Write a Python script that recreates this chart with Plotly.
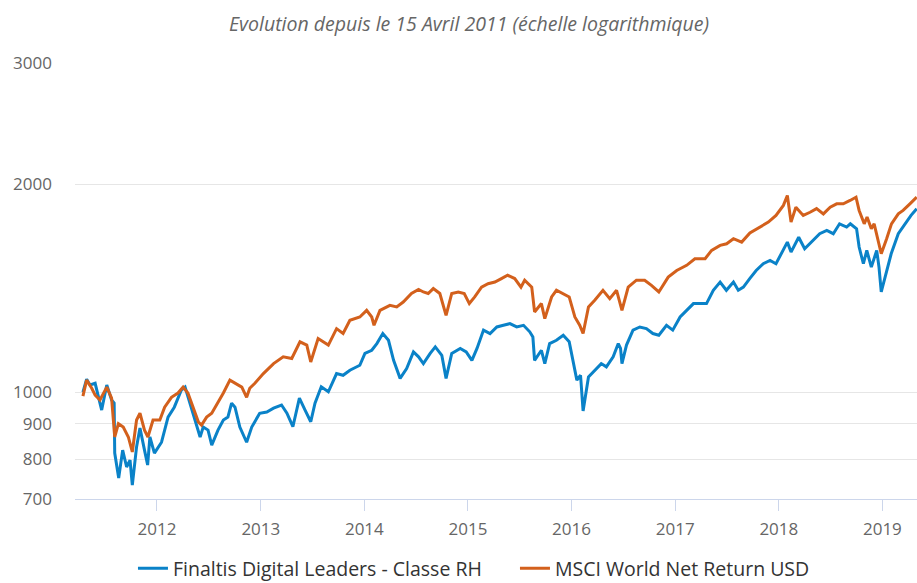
import plotly.graph_objects as go

# Finaltis Digital Leaders - Classe RH (blue)
fund_dates = [
    "2011-04-15", "2011-04-28", "2011-05-10", "2011-05-28", "2011-06-20", "2011-07-08", "2011-07-25",
    "2011-08-03", "2011-08-05", "2011-08-19", "2011-09-02", "2011-09-16", "2011-09-28", "2011-10-06",
    "2011-10-21", "2011-11-02", "2011-11-18", "2011-11-29", "2011-12-07", "2011-12-23",
    "2012-01-17", "2012-02-09", "2012-03-02", "2012-03-27", "2012-04-09", "2012-04-26", "2012-05-14",
    "2012-06-01", "2012-06-12", "2012-06-29", "2012-07-12", "2012-08-03", "2012-08-22", "2012-09-07",
    "2012-09-20", "2012-10-02", "2012-10-19", "2012-11-12", "2012-11-30", "2012-12-28",
    "2013-01-22", "2013-02-15", "2013-03-15", "2013-04-03", "2013-04-24", "2013-05-17", "2013-06-06",
    "2013-06-26", "2013-07-11", "2013-08-02", "2013-08-27", "2013-09-25", "2013-10-18", "2013-11-11",
    "2013-12-16",
    "2014-01-03", "2014-01-27", "2014-02-14", "2014-03-07", "2014-03-27", "2014-04-14", "2014-05-07",
    "2014-05-30", "2014-06-23", "2014-07-11", "2014-07-28", "2014-08-21", "2014-09-08", "2014-10-01",
    "2014-10-16", "2014-11-05", "2014-12-05", "2014-12-26",
    "2015-01-15", "2015-02-02", "2015-02-25", "2015-03-20", "2015-04-13", "2015-05-06", "2015-05-29",
    "2015-06-22", "2015-07-16", "2015-08-07", "2015-08-18", "2015-08-24", "2015-09-17", "2015-09-29",
    "2015-10-16", "2015-11-09", "2015-12-03", "2015-12-24",
    "2016-01-13", "2016-01-20", "2016-02-02", "2016-02-11", "2016-03-01", "2016-03-23", "2016-04-15",
    "2016-05-03", "2016-05-27", "2016-06-14", "2016-06-22", "2016-06-27", "2016-07-13", "2016-08-05",
    "2016-08-29", "2016-09-21", "2016-10-14", "2016-11-04", "2016-12-01", "2016-12-23",
    "2017-01-18", "2017-02-10", "2017-03-06", "2017-03-29", "2017-04-21", "2017-05-15", "2017-06-08",
    "2017-06-30", "2017-07-25", "2017-08-11", "2017-08-29", "2017-09-21", "2017-10-13", "2017-11-07",
    "2017-12-01", "2017-12-22",
    "2018-01-17", "2018-01-31", "2018-02-13", "2018-03-12", "2018-04-02", "2018-05-02", "2018-05-25",
    "2018-06-19", "2018-07-12", "2018-08-03", "2018-08-28", "2018-09-10", "2018-10-02", "2018-10-11",
    "2018-10-26", "2018-11-07", "2018-11-23", "2018-12-12", "2018-12-20", "2018-12-28",
    "2019-01-16", "2019-02-01", "2019-02-26", "2019-03-21", "2019-04-12", "2019-05-02",
]
fund_values = [
    1000, 1044, 1024, 1030, 942, 1024, 974,
    964, 816, 751, 824, 779, 797, 733,
    833, 887, 824, 784, 861, 816,
    846, 920, 951, 1007, 1017, 964, 911,
    861, 890, 881, 838, 881, 911, 920,
    964, 951, 890, 846, 890, 932,
    936, 948, 958, 932, 891, 980, 942,
    906, 964, 1018, 1001, 1064, 1058, 1076,
    1094,
    1138, 1150, 1176, 1216, 1189, 1112, 1047,
    1082, 1144, 1125, 1100, 1138, 1163, 1131,
    1047, 1138, 1157, 1144,
    1112, 1157, 1230, 1216, 1243, 1250, 1257,
    1243, 1250, 1223, 1202, 1112, 1150, 1100,
    1176, 1189, 1209, 1183,
    1076, 1041, 1058, 939, 1052, 1076, 1100,
    1088, 1125, 1176, 1157, 1100, 1170, 1230,
    1243, 1236, 1216, 1209, 1250, 1230,
    1285, 1314, 1344, 1344, 1344, 1405, 1444,
    1405, 1444, 1405, 1420, 1462, 1501, 1535,
    1552, 1535,
    1614, 1650, 1596, 1677, 1614, 1660, 1697,
    1716, 1697, 1754, 1735, 1754, 1725, 1623,
    1535, 1605, 1518, 1605, 1518, 1397,
    1501, 1587, 1697, 1754, 1804, 1845,
]

# MSCI World Net Return USD (orange)
index_dates = [
    "2011-04-15", "2011-04-28", "2011-05-16", "2011-05-28", "2011-06-14", "2011-07-08", "2011-07-25",
    "2011-08-05", "2011-08-18", "2011-09-04", "2011-09-22", "2011-10-06", "2011-10-21", "2011-11-02",
    "2011-11-18", "2011-11-30", "2011-12-18",
    "2012-01-11", "2012-01-28", "2012-02-21", "2012-03-15", "2012-04-02", "2012-04-19", "2012-05-08",
    "2012-05-26", "2012-06-06", "2012-06-24", "2012-07-12", "2012-08-03", "2012-08-22", "2012-09-14",
    "2012-10-02", "2012-10-26", "2012-11-12", "2012-11-23", "2012-12-11",
    "2013-01-10", "2013-02-15", "2013-03-21", "2013-04-20", "2013-05-19", "2013-06-12", "2013-06-26",
    "2013-07-22", "2013-08-27", "2013-09-25", "2013-10-18", "2013-11-11", "2013-12-16",
    "2014-01-09", "2014-01-27", "2014-02-04", "2014-02-25", "2014-04-01", "2014-04-25", "2014-05-18",
    "2014-06-16", "2014-07-11", "2014-07-28", "2014-08-14", "2014-09-01", "2014-09-24", "2014-10-16",
    "2014-11-05", "2014-11-28", "2014-12-19",
    "2015-01-06", "2015-01-25", "2015-02-18", "2015-03-13", "2015-04-06", "2015-04-29", "2015-05-21",
    "2015-06-15", "2015-07-07", "2015-07-20", "2015-08-14", "2015-08-24", "2015-09-17", "2015-09-29",
    "2015-10-23", "2015-11-09", "2015-12-03", "2015-12-24",
    "2016-01-13", "2016-01-30", "2016-02-11", "2016-03-01", "2016-03-23", "2016-04-21", "2016-05-15",
    "2016-06-08", "2016-06-27", "2016-07-19", "2016-08-17", "2016-09-15", "2016-10-09", "2016-11-04",
    "2016-12-07",
    "2017-01-06", "2017-02-10", "2017-03-11", "2017-04-16", "2017-05-09", "2017-06-08", "2017-07-01",
    "2017-07-25", "2017-08-23", "2017-09-21", "2017-10-27", "2017-11-25", "2017-12-22",
    "2018-01-17", "2018-01-31", "2018-02-13", "2018-03-02", "2018-03-28", "2018-04-21", "2018-05-14",
    "2018-06-07", "2018-07-01", "2018-07-24", "2018-08-16", "2018-09-09", "2018-09-30", "2018-10-11",
    "2018-10-29", "2018-11-08", "2018-11-23", "2018-12-03", "2018-12-28",
    "2019-01-16", "2019-02-02", "2019-02-26", "2019-03-15", "2019-04-08", "2019-05-02",
]
index_values = [
    987, 1041, 1013, 990, 974, 1017, 980,
    861, 900, 890, 861, 819, 911, 932,
    881, 861, 911,
    911, 951, 983, 997, 1017, 997, 951,
    905, 896, 920, 932, 964, 997, 1041,
    1030, 1017, 983, 1013, 1030,
    1064, 1100, 1125, 1119, 1183, 1170, 1106,
    1196, 1170, 1236, 1216, 1271, 1285,
    1314, 1285, 1250, 1314, 1336, 1329, 1351,
    1390, 1409, 1397, 1390, 1413, 1390, 1292,
    1390, 1397, 1390,
    1344, 1374, 1420, 1436, 1444, 1461, 1477,
    1461, 1420, 1453, 1420, 1307, 1344, 1278,
    1374, 1405, 1390, 1374,
    1285, 1250, 1216, 1329, 1359, 1405, 1366,
    1405, 1314, 1420, 1453, 1453, 1428, 1397,
    1468,
    1501, 1527, 1561, 1561, 1605, 1632, 1641,
    1669, 1650, 1701, 1735, 1764, 1804,
    1865, 1928, 1764, 1854, 1804, 1823, 1845,
    1813, 1854, 1875, 1875, 1896, 1917, 1834,
    1754, 1794, 1725, 1754, 1587,
    1669, 1754, 1813, 1834, 1875, 1917,
]

series_names = ["Finaltis Digital Leaders - Classe RH", "MSCI World Net Return USD"]
series_colors = ["#0a82c8", "#d3601c"]

y_tickvals = [700, 800, 900, 1000, 2000, 3000]
x_tickvals = ["2012-01-01", "2013-01-01", "2014-01-01", "2015-01-01", "2016-01-01",
              "2017-01-01", "2018-01-01", "2019-01-01"]
x_ticktext = ["2012", "2013", "2014", "2015", "2016", "2017", "2018", "2019"]

font_family = "Open Sans, Lato, sans-serif"

fig = go.Figure()
fig.add_trace(go.Scatter(x=fund_dates, y=fund_values, mode="lines", name=series_names[0],
                         line=dict(color=series_colors[0], width=3)))
fig.add_trace(go.Scatter(x=index_dates, y=index_values, mode="lines", name=series_names[1],
                         line=dict(color=series_colors[1], width=3)))

fig.update_layout(
    width=917, height=583,
    paper_bgcolor="white", plot_bgcolor="white",
    margin=dict(l=75, r=0, t=63, b=84),
    font=dict(family=font_family, color="#666666", size=17),
    title=dict(text="<i>Evolution depuis le 15 Avril 2011 (échelle logarithmique)</i>",
               xref="container", x=0.5115, xanchor="center",
               yref="container", y=0.9588, yanchor="middle",
               font=dict(size=19.5, color="#666666", family=font_family)),
    showlegend=True,
    legend=dict(orientation="h", xref="container", x=0.145, xanchor="left",
                yref="container", y=0.058, yanchor="top",
                font=dict(size=19.5, color="#333333", family=font_family),
                itemwidth=30, tracegroupgap=0, entrywidth=337),
    hovermode=False,
)
fig.update_xaxes(
    type="date", range=["2011-03-18", "2019-05-03"],
    tickvals=x_tickvals, ticktext=x_ticktext,
    showgrid=False, showline=True, linecolor="#ccd6eb", linewidth=1,
    ticks="outside", ticklen=11, tickcolor="#ccd6eb",
    tickfont=dict(size=17, color="#666666"), zeroline=False, ticklabelstandoff=4,
)
fig.update_yaxes(
    type="log", range=[2.84510, 3.47712],
    tickvals=y_tickvals, ticktext=[str(v) for v in y_tickvals],
    showgrid=True, gridcolor="#e6e6e6", gridwidth=1,
    showline=False, zeroline=False, ticks="",
    tickfont=dict(size=17, color="#666666"), ticklabelstandoff=22,
)

fig.write_html("out.html", config={"displayModeBar": False},
               post_script="document.body.style.margin='0px';")
